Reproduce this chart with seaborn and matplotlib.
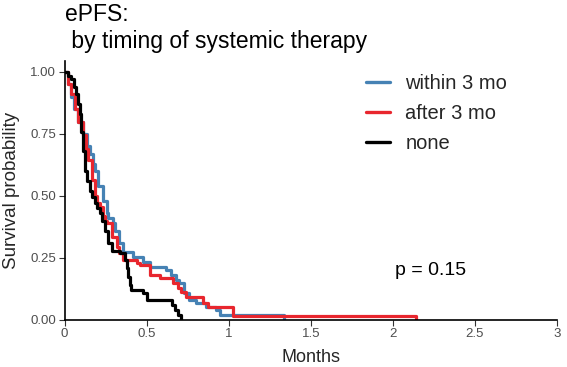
import matplotlib
matplotlib.use("Agg")
import matplotlib.pyplot as plt
from matplotlib.lines import Line2D
import seaborn as sns
import pandas as pd

# ---- data ----
groups = ["within 3 mo", "after 3 mo", "none"]
colors = ["#4682B4", "#E8262E", "#000000"]

within_t = [0, 0.02, 0.04, 0.06, 0.08, 0.11, 0.135, 0.155, 0.175, 0.185, 0.205, 0.236, 0.256, 0.266,
            0.297, 0.307, 0.33, 0.357, 0.418, 0.479, 0.52, 0.62, 0.65, 0.68, 0.70, 0.73, 0.76, 0.80,
            0.86, 0.925, 0.945, 1.34]
within_s = [1.0, 0.95, 0.90, 0.85, 0.80, 0.75, 0.70, 0.67, 0.63, 0.60, 0.54, 0.48, 0.43, 0.41,
            0.39, 0.36, 0.31, 0.275, 0.255, 0.235, 0.215, 0.20, 0.18, 0.16, 0.148, 0.11, 0.08, 0.067,
            0.054, 0.04, 0.02, 0.0]

after_t = [0, 0.02, 0.04, 0.062, 0.082, 0.112, 0.133, 0.145, 0.165, 0.185, 0.20, 0.216, 0.235, 0.246,
           0.256, 0.287, 0.317, 0.335, 0.357, 0.378, 0.44, 0.459, 0.52, 0.58, 0.66, 0.69, 0.712, 0.743,
           0.845, 0.874, 1.026, 2.14]
after_s = [1.0, 0.95, 0.91, 0.85, 0.80, 0.745, 0.69, 0.645, 0.565, 0.50, 0.47, 0.457, 0.42, 0.40,
           0.39, 0.336, 0.296, 0.27, 0.242, 0.24, 0.228, 0.22, 0.18, 0.168, 0.148, 0.13, 0.114, 0.094,
           0.07, 0.054, 0.016, 0.0]

none_t = [0, 0.02, 0.04, 0.06, 0.072, 0.085, 0.092, 0.10, 0.112, 0.125, 0.14, 0.155, 0.17, 0.185,
          0.20, 0.216, 0.23, 0.246, 0.265, 0.287, 0.337, 0.368, 0.378, 0.388, 0.40, 0.408, 0.479, 0.50,
          0.652, 0.672, 0.69, 0.712]
none_s = [1.0, 0.985, 0.97, 0.94, 0.91, 0.87, 0.83, 0.76, 0.68, 0.60, 0.56, 0.52, 0.495, 0.47,
          0.45, 0.43, 0.40, 0.36, 0.31, 0.28, 0.27, 0.24, 0.21, 0.175, 0.14, 0.12, 0.108, 0.08,
          0.06, 0.04, 0.02, 0.0]

x_ticks = [0, 0.5, 1, 1.5, 2, 2.5, 3]
x_tick_labels = ["0", "0.5", "1", "1.5", "2", "2.5", "3"]
y_ticks = [0, 0.25, 0.5, 0.75, 1.0]
y_tick_labels = ["0.00", "0.25", "0.50", "0.75", "1.00"]
p_text = "p = 0.15"

frames = []
for g, t, s in zip(groups, [within_t, after_t, none_t], [within_s, after_s, none_s]):
    frames.append(pd.DataFrame({"Months": t, "Survival": s, "group": g}))
df = pd.concat(frames, ignore_index=True)

# ---- plot ----
sns.set_style("white")
plt.rcParams["font.family"] = ["Liberation Sans", "DejaVu Sans"]

fig = plt.figure(figsize=(5.67, 3.67), dpi=100)
W, H = 567, 367
ax_left, ax_right, ax_bottom, ax_top = 64.5, 557, 320, 61
ax = fig.add_axes([ax_left / W, 1 - ax_bottom / H, (ax_right - ax_left) / W, (ax_bottom - ax_top) / H])

sns.lineplot(data=df, x="Months", y="Survival", hue="group", hue_order=groups,
             palette=colors, estimator=None, sort=False, drawstyle="steps-post",
             linewidth=2.3, legend=False, ax=ax)

ax.set_xlim(0, 3)
ax.set_ylim(0, (ax_bottom - ax_top) / 248.0)
ax.set_xticks(x_ticks)
ax.set_xticklabels(x_tick_labels)
ax.set_yticks(y_ticks)
ax.set_yticklabels(y_tick_labels)
ax.tick_params(axis="both", colors="#333333", labelcolor="#4D4D4D", labelsize=9.5,
               length=4, width=0.8, direction="out", bottom=True, left=True, pad=2)
for side in ["top", "right"]:
    ax.spines[side].set_visible(False)
for side in ["left", "bottom"]:
    ax.spines[side].set_color("black")
    ax.spines[side].set_linewidth(1.2)

ax.set_xlabel("Months", fontsize=13)
ax.set_ylabel("Survival probability", fontsize=13.5)
ax.xaxis.label.set_va("center")
ax.xaxis.set_label_coords(0.5, (ax_bottom - 357) / (ax_bottom - ax_top))
ax.yaxis.label.set_va("center")
ax.yaxis.set_label_coords((12 - ax_left) / (ax_right - ax_left), 0.5)

ax.text(2.23, 0.20, p_text, ha="center", va="center", fontsize=14, color="black")

handles = [Line2D([0], [0], color=c, lw=2.4) for c in colors]
ax.legend(handles, groups, loc="upper left", bbox_to_anchor=(366 / W, 1 - 74 / H),
          bbox_transform=fig.transFigure, frameon=False, fontsize=14.5,
          handlelength=1.2, handletextpad=0.75, labelspacing=0.55, borderpad=0, borderaxespad=0)

fig.text(65 / W, 1 - 3 / H, "ePFS:\n by timing of systemic therapy", ha="left", va="top",
         fontsize=16.5, linespacing=1.2, color="black")

fig.savefig("out.png", dpi=100)
